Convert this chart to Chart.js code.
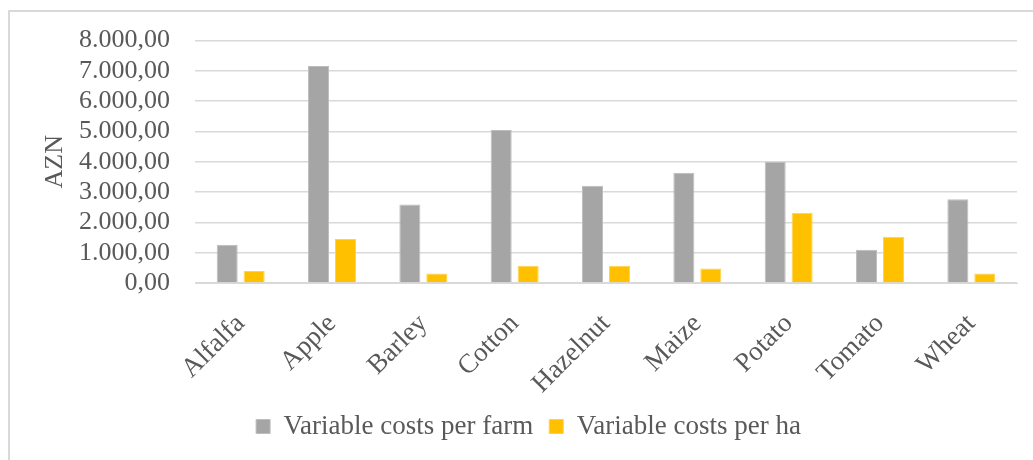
<!DOCTYPE html>
<html>
<head>
<meta charset="utf-8">
<script src="https://cdn.jsdelivr.net/npm/chart.js@4/dist/chart.umd.min.js"></script>
<style>
    body { margin: 0; background: #fff; }
    #marco { position: absolute; left: 8px; top: 10px; width: 1025px; height: 450px;
             border-top: 2px solid #d9d9d9; border-left: 2px solid #d9d9d9; box-sizing: border-box; }
    #caja { position: absolute; left: 0; top: 0; width: 1033px; height: 460px; }
</style>
</head>
<body>
<div id="marco"></div>
<div id="caja"><canvas id="myChart" width="1033" height="460"></canvas></div>
<script>
//-----------------DATOS------------------
var cultivos = ['Alfalfa', 'Apple', 'Barley', 'Cotton', 'Hazelnut', 'Maize', 'Potato', 'Tomato', 'Wheat'];
var costos_finca = [1260, 7160, 2590, 5050, 3210, 3640, 3990, 1100, 2760];
var costos_ha = [400, 1450, 310, 570, 570, 480, 2320, 1530, 310];
var etiqueta_finca = 'Variable costs per farm';
var etiqueta_ha = 'Variable costs per ha';
var titulo_y = 'AZN';
var y_max = 8000;
var y_paso = 1000;

//-----------------FUNCIONES------------------
function formato_numero(valor) {
    var partes = valor.toFixed(2).split('.');
    var entero = partes[0].replace(/\B(?=(\d{3})+(?!\d))/g, '.');
    return entero + ',' + partes[1];
}

var fuente = 'Liberation Serif, Times New Roman, serif';
var gris_texto = '#595959';

var datos = {
    labels: cultivos,
    datasets: [{
        label: etiqueta_finca,
        data: costos_finca,
        backgroundColor: '#a5a5a5',
        borderColor: '#bdbdbd',
        borderWidth: 1,
        categoryPercentage: 0.59,
        barPercentage: 0.78
    }, {
        label: etiqueta_ha,
        data: costos_ha,
        backgroundColor: '#ffc000',
        borderColor: '#ffd24d',
        borderWidth: 1,
        categoryPercentage: 0.59,
        barPercentage: 0.78
    }]
}

var opciones = {
    responsive: false,
    animation: false,
    layout: { padding: { left: 40, right: 16, top: 26, bottom: 10 } },
    plugins: {
        tooltip: { enabled: false },
        legend: {
            position: 'bottom',
            labels: {
                boxWidth: 14,
                boxHeight: 14,
                padding: 16,
                color: gris_texto,
                font: { family: fuente, size: 27 }
            }
        }
    },
    scales: {
        x: {
            afterFit: function (escala) { escala.height = 114; },
            grid: { display: false },
            border: { color: '#d9d9d9' },
            ticks: {
                color: gris_texto,
                font: { family: fuente, size: 27 },
                minRotation: 45,
                maxRotation: 45,
                padding: 17
            }
        },
        y: {
            min: 0,
            max: y_max,
            afterFit: function (escala) { escala.width = 155; },
            border: { display: false },
            grid: { color: '#d9d9d9', lineWidth: 1.5, drawTicks: false },
            title: {
                display: true,
                text: titulo_y,
                color: gris_texto,
                font: { family: fuente, size: 26 },
                padding: 0
            },
            ticks: {
                stepSize: y_paso,
                autoSkip: false,
                padding: 25,
                color: gris_texto,
                font: { family: fuente, size: 26 },
                callback: function (v) { return formato_numero(v); }
            }
        }
    }
}

var ctx = document.getElementById('myChart').getContext('2d');
var myChart = new Chart(ctx, { type: 'bar', data: datos, options: opciones });
</script>
</body>
</html>
